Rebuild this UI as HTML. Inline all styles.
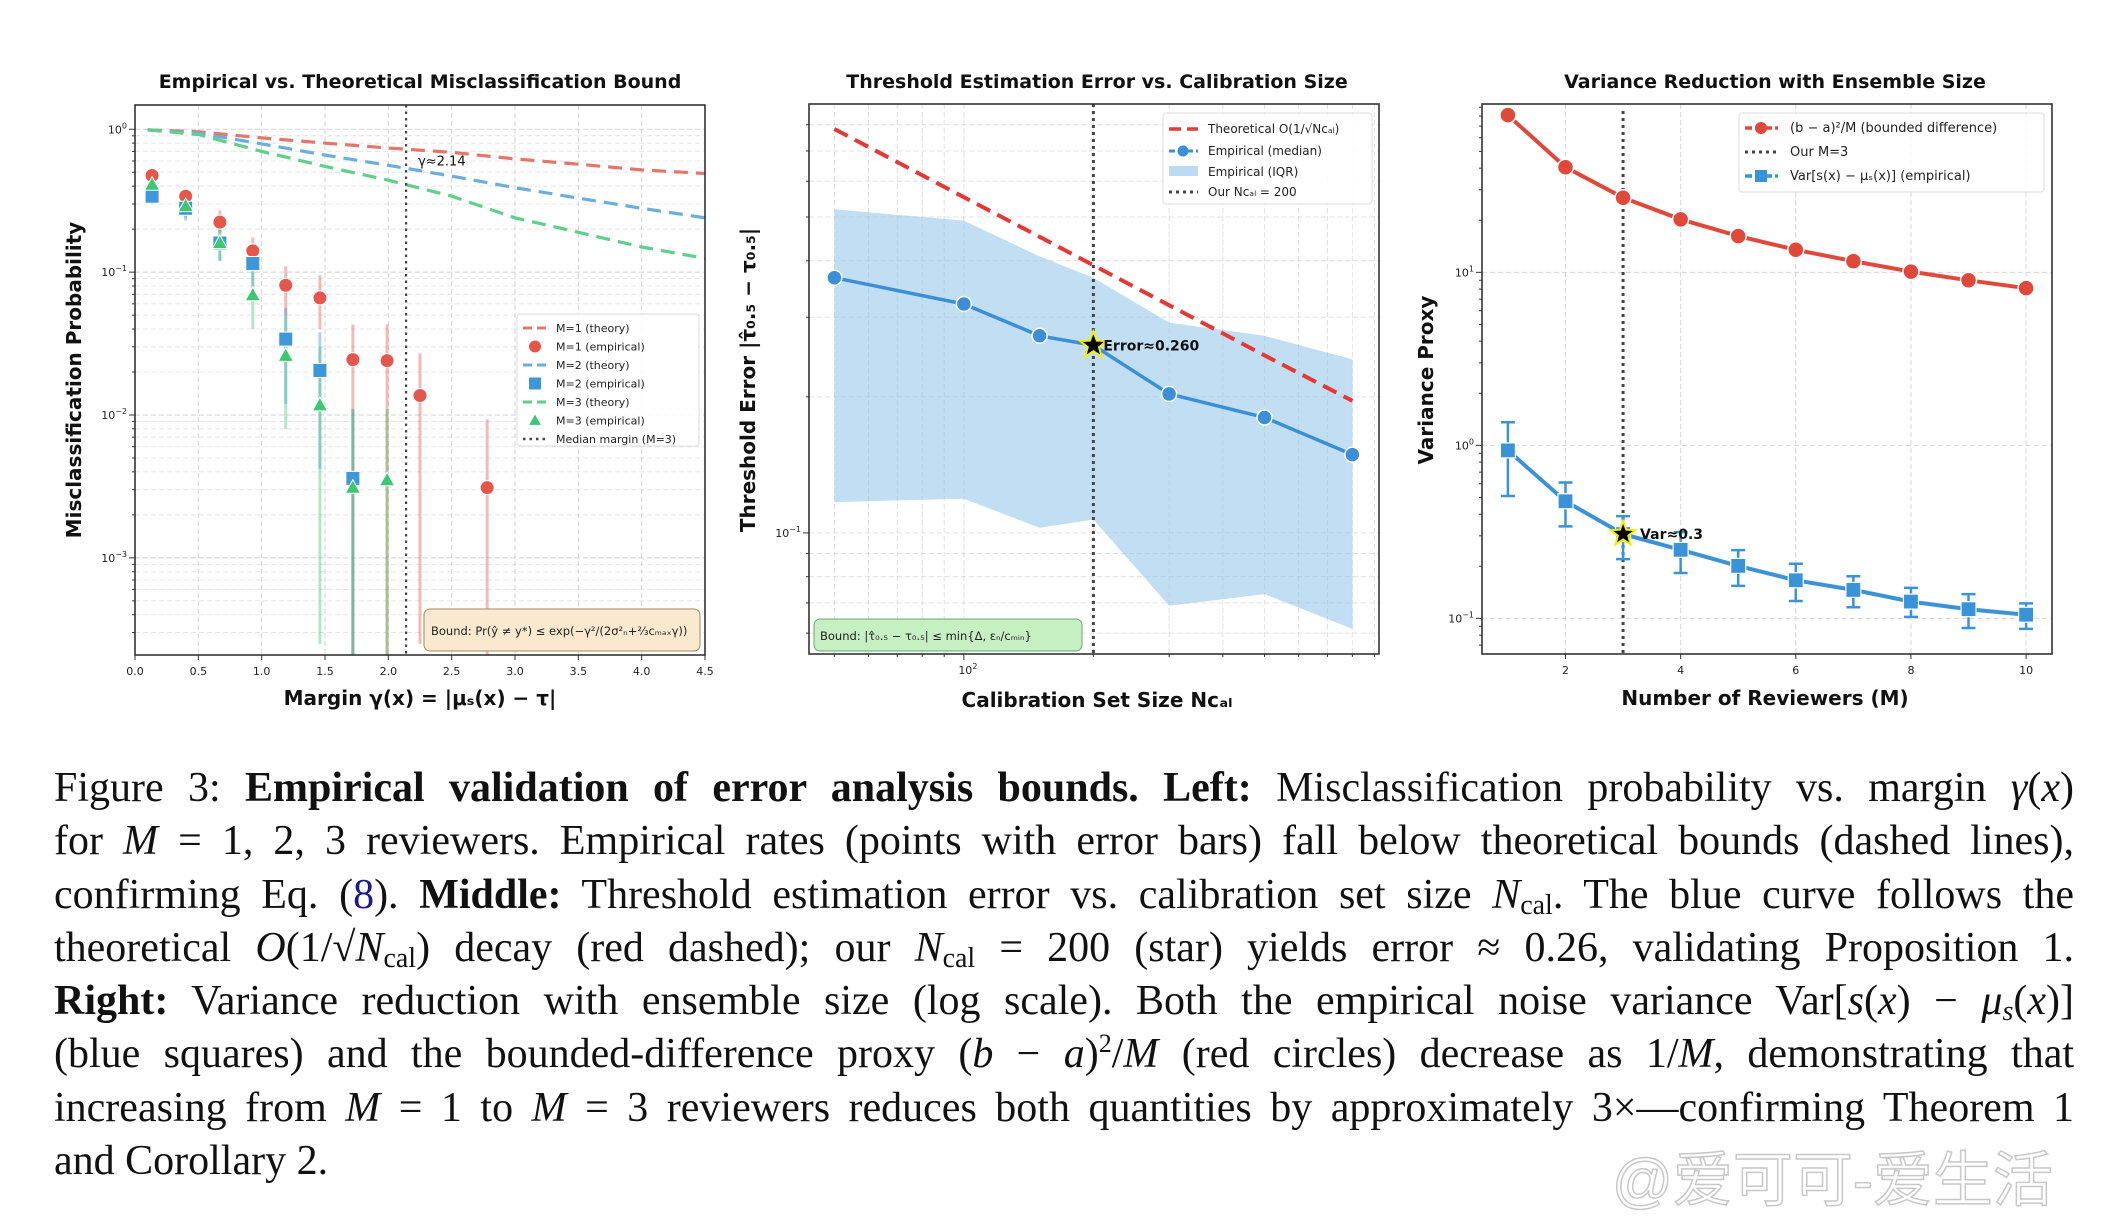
<!DOCTYPE html>
<html><head><meta charset="utf-8">
<style>
html,body{margin:0;padding:0;background:#fff;}
body{width:2114px;height:1220px;position:relative;overflow:hidden;font-family:"DejaVu Sans","Liberation Sans",sans-serif;}
#fig{position:absolute;left:0;top:0;}
#caption{position:absolute;left:54px;top:762px;width:2020px;font-family:"Liberation Serif",serif;font-size:42px;color:#111;}
#caption .ln{height:53.3px;line-height:53.3px;text-align:justify;text-align-last:justify;white-space:nowrap;}
#caption .ln.last{text-align-last:left;}
#caption i{font-style:italic;}
#caption sub{font-size:28px;vertical-align:-6px;line-height:0;}
#wm{position:absolute;left:1612px;top:1132px;font-family:"Liberation Sans","Noto Sans CJK SC",sans-serif;font-size:60px;color:#fff;-webkit-text-stroke:1.5px #c8c8c8;}
</style></head>
<body>
<svg id="fig" width="2114" height="760" xmlns="http://www.w3.org/2000/svg" font-family="DejaVu Sans, Liberation Sans, sans-serif"></svg>
<div id="caption">
<div class="ln">Figure 3: <b>Empirical validation of error analysis bounds. Left:</b> Misclassification probability vs. margin <i>γ</i>(<i>x</i>)</div>
<div class="ln">for <i>M</i> = 1, 2, 3 reviewers. Empirical rates (points with error bars) fall below theoretical bounds (dashed lines),</div>
<div class="ln">confirming Eq. (<span style="color:#1a1a8c">8</span>). <b>Middle:</b> Threshold estimation error vs. calibration set size <i>N</i><sub>cal</sub>. The blue curve follows the</div>
<div class="ln">theoretical <i>O</i>(1/√<i>N</i><sub>cal</sub>) decay (red dashed); our <i>N</i><sub>cal</sub> = 200 (star) yields error ≈ 0.26, validating Proposition 1.</div>
<div class="ln"><b>Right:</b> Variance reduction with ensemble size (log scale). Both the empirical noise variance Var[<i>s</i>(<i>x</i>) − <i>μ<sub>s</sub></i>(<i>x</i>)]</div>
<div class="ln">(blue squares) and the bounded-difference proxy (<i>b</i> − <i>a</i>)<sup style="font-size:26px;line-height:0">2</sup>/<i>M</i> (red circles) decrease as 1/<i>M</i>, demonstrating that</div>
<div class="ln">increasing from <i>M</i> = 1 to <i>M</i> = 3 reviewers reduces both quantities by approximately 3×—confirming Theorem 1</div>
<div class="ln last">and Corollary 2.</div>
</div>
<div id="wm">@爱可可-爱生活</div>
<script>
// ---------- LEFT PANEL DATA ----------
const leftTheoryX = [0.1,0.5,1.0,1.5,2.0,2.5,3.0,3.5,4.0,4.5];
const leftTheoryM1 = [0.99,0.96,0.87,0.80,0.74,0.69,0.62,0.57,0.52,0.49];
const leftTheoryM2 = [0.99,0.94,0.79,0.66,0.56,0.47,0.39,0.33,0.28,0.24];
const leftTheoryM3 = [0.99,0.92,0.70,0.55,0.44,0.34,0.24,0.19,0.15,0.125];
const leftEmpX = [0.135,0.40,0.67,0.93,1.19,1.46,1.72,1.99,2.25,2.78];
const leftEmpM1 = [0.475,0.34,0.224,0.141,0.081,0.066,0.0244,0.024,0.0137,0.0031];
const leftEmpM1Lo = [0.42,0.30,0.19,0.11,0.05,0.04,0.0002,0.0002,0.00025,0.0001];
const leftEmpM1Hi = [0.53,0.38,0.27,0.175,0.11,0.095,0.043,0.043,0.027,0.0093];
const leftEmpM2 = [0.34,0.28,0.16,0.115,0.034,0.0205,0.0036];
const leftEmpM2Lo = [0.30,0.23,0.12,0.08,0.012,0.0042,0.0001];
const leftEmpM2Hi = [0.38,0.33,0.20,0.15,0.056,0.038,0.011];
const leftEmpM3 = [0.41,0.29,0.16,0.069,0.026,0.0117,0.0031,0.0035];
const leftEmpM3Lo = [0.36,0.24,0.12,0.04,0.008,0.00025,0.0001,0.0001];
const leftEmpM3Hi = [0.46,0.34,0.21,0.10,0.05,0.03,0.011,0.011];
const leftMedian = 2.14;
const leftXTicks = [0,0.5,1,1.5,2,2.5,3,3.5,4,4.5];
const leftYTicks = [0,-1,-2,-3];
// ---------- MIDDLE PANEL DATA ----------
const midN = [50,100,150,200,300,500,800];
const midTheory = [0.783,0.553,0.452,0.391,0.319,0.247,0.196];
const midMedian = [0.367,0.321,0.273,0.260,0.203,0.180,0.149];
const midIqrHi = [0.52,0.491,0.409,0.367,0.292,0.273,0.242];
const midIqrLo = [0.117,0.119,0.1026,0.107,0.069,0.0732,0.0613];
const midOurN = 200;
// ---------- RIGHT PANEL DATA ----------
const rightM = [1,2,3,4,5,6,7,8,9,10];
const rightBound = [81,40.5,27,20.25,16.2,13.5,11.6,10.1,9,8.1];
const rightVar = [0.935,0.475,0.307,0.249,0.201,0.166,0.146,0.125,0.113,0.105];
const rightVarHi = [1.36,0.61,0.39,0.315,0.248,0.207,0.175,0.15,0.138,0.122];
const rightVarLo = [0.51,0.34,0.22,0.183,0.154,0.126,0.116,0.102,0.088,0.087];
const rightXTicks = [2,4,6,8,10];
const rightOurM = 3;

const NS="http://www.w3.org/2000/svg";
const svg=document.getElementById('fig');
function el(tag,attrs,parent,text){const e=document.createElementNS(NS,tag);for(const k in attrs)e.setAttribute(k,attrs[k]);if(text!==undefined)e.textContent=text;(parent||svg).appendChild(e);return e;}
function linS(d0,d1,r0,r1){return v=>r0+(v-d0)/(d1-d0)*(r1-r0);}
function logS(d0,d1,r0,r1){return v=>r0+(Math.log10(v)-d0)/(d1-d0)*(r1-r0);}
function pathD(xs,ys,fx,fy){return xs.map((x,i)=>(i?'L':'M')+fx(x).toFixed(1)+','+fy(ys[i]).toFixed(1)).join(' ');}
function sup(g,x,y,base,exp,anchor){const t=el('text',{x:x,y:y,'font-size':11,'text-anchor':anchor||'end',fill:'#222'},g);t.appendChild(document.createTextNode(base));el('tspan',{dy:-5,'font-size':8},t,exp);return t;}
function frame(g,L,T,R,B){el('rect',{x:L,y:T,width:R-L,height:B-T,fill:'none',stroke:'#333','stroke-width':1.6},g);}
function gridV(g,x,T,B,op){el('line',{x1:x,x2:x,y1:T,y2:B,stroke:'#ccc','stroke-width':1,'stroke-dasharray':'5,3',opacity:op||0.8},g);}
function gridH(g,y,L,R,op){el('line',{x1:L,x2:R,y1:y,y2:y,stroke:'#ccc','stroke-width':1,'stroke-dasharray':'5,3',opacity:op||0.8},g);}
function star(g,cx,cy,r){let p=[];for(let i=0;i<10;i++){const a=-Math.PI/2+i*Math.PI/5;const rr=i%2?r*0.42:r;p.push((cx+rr*Math.cos(a)).toFixed(1)+','+(cy+rr*Math.sin(a)).toFixed(1));}return el('polygon',{points:p.join(' '),fill:'#000',stroke:'#f5f000','stroke-width':2},g);}
function tri(g,cx,cy,r,fill){return el('polygon',{points:`${cx},${cy-r} ${cx-r*0.95},${cy+r*0.7} ${cx+r*0.95},${cy+r*0.7}`,fill:fill,stroke:'#fff','stroke-width':1},g);}

// ================= LEFT =================
(function(){
const L=135,R=705,T=105,B=655;
const g=el('g',{});


const fx=linS(0,4.5,L,R), fy=logS(0.17,-3.68,T,B);
for(let d=-4;d<=0;d++)for(let m=1;m<10;m++){const v=m*Math.pow(10,d);const lv=Math.log10(v);if(lv<-3.68||lv>0.17)continue;const y=fy(v);gridH(g,y,L,R,m===1?0.9:0.5);el('line',{x1:L-(m===1?6:3),x2:L,y1:y,y2:y,stroke:'#333'},g);}
leftXTicks.forEach(v=>{gridV(g,fx(v),T,B);el('line',{x1:fx(v),x2:fx(v),y1:B,y2:B+5,stroke:'#333'},g);const t=el('text',{x:fx(v),y:B+20,'font-size':11,'text-anchor':'middle',fill:'#222'},g,v.toFixed(1));});
leftYTicks.forEach(d=>{sup(g,L-8,fy(Math.pow(10,d))+4,'10',String(d).replace('-','−'));});
const cols={r:'#e5574b',b:'#3d97d9',gr:'#3fc670'};
[[leftTheoryM1,'#e3776c','theory-line-m1'],[leftTheoryM2,'#6aaee0','theory-line-m2'],[leftTheoryM3,'#5fcf8a','theory-line-m3']].forEach(s=>{const p=el('path',{d:pathD(leftTheoryX,s[0],fx,fy),fill:'none',stroke:s[1],'stroke-width':3.2,'stroke-dasharray':'14,8'},g);});
const clipB=v=>Math.max(v,Math.pow(10,-3.68));
function ebars(xs,lo,hi,c){lo.forEach((l,i)=>{const e=el('line',{x1:fx(xs[i]),x2:fx(xs[i]),y1:fy(clipB(l)),y2:fy(hi[i]),stroke:c,'stroke-width':3,opacity:0.4},g);});}
ebars(leftEmpX,leftEmpM1Lo,leftEmpM1Hi,cols.r);
ebars(leftEmpX,leftEmpM2Lo,leftEmpM2Hi,cols.b);
ebars(leftEmpX,leftEmpM3Lo,leftEmpM3Hi,cols.gr);
el('line',{x1:fx(leftMedian),x2:fx(leftMedian),y1:T,y2:B,stroke:'#444','stroke-width':2.2,'stroke-dasharray':'2.5,4'},g);
el('text',{x:fx(leftMedian)+12,y:fy(0.56),'font-size':13,fill:'#111'},g,'γ≈2.14');
leftEmpM1.forEach((v,i)=>{const c=el('circle',{cx:fx(leftEmpX[i]),cy:fy(v),r:7,fill:cols.r,stroke:'#fff','stroke-width':1},g);});
leftEmpM2.forEach((v,i)=>{const c=el('rect',{x:fx(leftEmpX[i])-7,y:fy(v)-7,width:14,height:14,fill:cols.b,stroke:'#fff','stroke-width':1},g);});
leftEmpM3.forEach((v,i)=>{const c=tri(g,fx(leftEmpX[i]),fy(v),8,cols.gr);});
frame(g,L,T,R,B);
const lg=el('g',{},g);
el('rect',{x:517,y:314,width:182,height:132,rx:3,fill:'#fff','fill-opacity':0.85,stroke:'#ddd'},lg);
const items=[['line','#e3776c','M=1 (theory)'],['circ',cols.r,'M=1 (empirical)'],['line','#6aaee0','M=2 (theory)'],['sq',cols.b,'M=2 (empirical)'],['line','#5fcf8a','M=3 (theory)'],['tri',cols.gr,'M=3 (empirical)'],['dot','#444','Median margin (M=3)']];
items.forEach((it,i)=>{const y=328+i*18.5;if(it[0]==='line')el('line',{x1:523,x2:548,y1:y,y2:y,stroke:it[1],'stroke-width':3,'stroke-dasharray':'9,5'},lg);else if(it[0]==='dot')el('line',{x1:523,x2:548,y1:y,y2:y,stroke:it[1],'stroke-width':2.4,'stroke-dasharray':'2.5,4'},lg);else if(it[0]==='circ')el('circle',{cx:535,cy:y,r:6,fill:it[1]},lg);else if(it[0]==='sq')el('rect',{x:529,y:y-6,width:12,height:12,fill:it[1]},lg);else tri(lg,535,y,7,it[1]);el('text',{x:556,y:y+4,'font-size':11,fill:'#222'},lg,it[2]);});
const bb=el('g',{},g);
el('rect',{x:424,y:609,width:276,height:42,rx:6,fill:'#fbe9cf',stroke:'#a08a60','stroke-width':1},bb);
el('text',{x:431,y:635,'font-size':11.5,fill:'#222'},bb,'Bound: Pr(ŷ ≠ y*) ≤ exp(−γ²/(2σ²ₙ+⅔c\u2098\u2090\u2093γ))');
el('text',{x:420,y:88,'font-size':19,'font-weight':'bold','text-anchor':'middle',fill:'#111'},g,'Empirical vs. Theoretical Misclassification Bound');
el('text',{x:420,y:705,'font-size':20,'font-weight':'bold','text-anchor':'middle',fill:'#111'},g,'Margin γ(x) = |μ\u209b(x) − τ|');
el('text',{x:0,y:0,'font-size':20,'font-weight':'bold','text-anchor':'middle',fill:'#111',transform:'translate(81,380) rotate(-90)'},g,'Misclassification Probability');
})();

// ================= MIDDLE =================
(function(){
const L=809,R=1379,T=104,B=654;
const g=el('g',{});


const fx=logS(1.64,2.965,L,R), fy=logS(-0.051,-1.268,T,B);
for(let m=5;m<=9;m++){const v=m/100;const y=fy(v);if(y<B){gridH(g,y,L,R,0.6);el('line',{x1:L-3,x2:L,y1:y,y2:y,stroke:'#333'},g);}}
for(let m=1;m<=8;m++){const v=m/10;const y=fy(v);if(y>T&&y<B){gridH(g,y,L,R,0.6);el('line',{x1:L-(m===1?6:3),x2:L,y1:y,y2:y,stroke:'#333'},g);}}
for(let v of [50,60,70,80,90,100,200,300,400,500,600,700,800,900]){const x=fx(v);if(x<L||x>R)continue;gridV(g,x,T,B,0.6);el('line',{x1:x,x2:x,y1:B,y2:B+(v===100?6:3),stroke:'#333'},g);}
sup(g,fx(100)+4,B+20,'10','2','middle');
sup(g,L-8,fy(0.1)+4,'10','−1');
const band=el('path',{d:pathD(midN,midIqrHi,fx,fy)+' '+midN.slice().reverse().map((n,i)=>'L'+fx(n).toFixed(1)+','+fy(midIqrLo[midN.length-1-i]).toFixed(1)).join(' ')+'Z',fill:'#8fc2ea','fill-opacity':0.55,stroke:'none'},g);

const th=el('path',{d:pathD(midN,midTheory,fx,fy),fill:'none',stroke:'#e53935','stroke-width':4,'stroke-dasharray':'15,8'},g);

el('line',{x1:fx(midOurN),x2:fx(midOurN),y1:T,y2:B,stroke:'#444','stroke-width':3,'stroke-dasharray':'3,4'},g);
const ml=el('path',{d:pathD(midN,midMedian,fx,fy),fill:'none',stroke:'#3a8fd6','stroke-width':3.5},g);

midMedian.forEach((v,i)=>{if(midN[i]===midOurN)return;const c=el('circle',{cx:fx(midN[i]),cy:fy(v),r:7.5,fill:'#3a8fd6',stroke:'#fff','stroke-width':1.5},g);});
const si=midN.indexOf(midOurN);
const st=star(g,fx(midOurN),fy(midMedian[si]),14);
el('text',{x:fx(midOurN)+10,y:fy(midMedian[si])+5,'font-size':14,'font-weight':'bold',fill:'#111'},g,'Error≈0.260');
frame(g,L,T,R,B);
const lg=el('g',{},g);
el('rect',{x:1163,y:113,width:209,height:91,rx:3,fill:'#fff','fill-opacity':0.85,stroke:'#ddd'},lg);
el('line',{x1:1169,x2:1198,y1:129,y2:129,stroke:'#e53935','stroke-width':3.5,'stroke-dasharray':'12,6'},lg);
el('text',{x:1208,y:133,'font-size':12,fill:'#222'},lg,'Theoretical O(1/√N\u0063\u2090\u2097)');
el('line',{x1:1169,x2:1198,y1:151,y2:151,stroke:'#3a8fd6','stroke-width':3,'stroke-dasharray':'6,3'},lg);
el('circle',{cx:1183,cy:151,r:5.5,fill:'#3a8fd6'},lg);
el('text',{x:1208,y:155,'font-size':12,fill:'#222'},lg,'Empirical (median)');
el('rect',{x:1169,y:166,width:29,height:10,fill:'#8fc2ea','fill-opacity':0.6},lg);
el('text',{x:1208,y:176,'font-size':12,fill:'#222'},lg,'Empirical (IQR)');
el('line',{x1:1169,x2:1198,y1:192,y2:192,stroke:'#444','stroke-width':3,'stroke-dasharray':'3,4'},lg);
el('text',{x:1208,y:196,'font-size':12,fill:'#222'},lg,'Our N\u0063\u2090\u2097 = 200');
const bb=el('g',{},g);
el('rect',{x:814,y:619,width:268,height:32,rx:6,fill:'#c6efc2',stroke:'#6aa86a','stroke-width':1},bb);
el('text',{x:820,y:640,'font-size':11.5,fill:'#222'},bb,'Bound: |τ̂\u2080.\u2085 − τ\u2080.\u2085| ≤ min{Δ, εₙ/c\u2098ᵢₙ}');
el('text',{x:1097,y:88,'font-size':19,'font-weight':'bold','text-anchor':'middle',fill:'#111'},g,'Threshold Estimation Error vs. Calibration Size');
el('text',{x:1097,y:707,'font-size':20,'font-weight':'bold','text-anchor':'middle',fill:'#111'},g,'Calibration Set Size N\u0063\u2090\u2097');
el('text',{x:0,y:0,'font-size':20,'font-weight':'bold','text-anchor':'middle',fill:'#111',transform:'translate(755,380) rotate(-90)'},g,'Threshold Error |τ̂₀.₅ − τ₀.₅|');
})();

// ================= RIGHT =================
(function(){
const L=1482,R=2052,T=104,B=654;
const g=el('g',{});


const fx=linS(0.55,10.45,L,R), fy=logS(1.973,-1.206,T,B);
[1,0,-1].forEach(d=>{gridH(g,fy(Math.pow(10,d)),L,R,0.8);sup(g,L-8,fy(Math.pow(10,d))+4,'10',String(d).replace('-','−'));});
for(let d=-2;d<=1;d++)for(let m=1;m<10;m++){const v=m*Math.pow(10,d);const lv=Math.log10(v);if(lv<-1.206||lv>1.973)continue;el('line',{x1:L-(m===1?6:3),x2:L,y1:fy(v),y2:fy(v),stroke:'#333'},g);}
rightXTicks.forEach(v=>{gridV(g,fx(v),T,B);el('line',{x1:fx(v),x2:fx(v),y1:B,y2:B+5,stroke:'#333'},g);el('text',{x:fx(v),y:B+20,'font-size':11,'text-anchor':'middle',fill:'#222'},g,String(v));});
el('line',{x1:fx(rightOurM),x2:fx(rightOurM),y1:T+7,y2:B,stroke:'#444','stroke-width':3,'stroke-dasharray':'3,4'},g);
const rl=el('path',{d:pathD(rightM,rightBound,fx,fy),fill:'none',stroke:'#e0483a','stroke-width':4},g);

rightBound.forEach((v,i)=>{const c=el('circle',{cx:fx(rightM[i]),cy:fy(v),r:8,fill:'#e0483a',stroke:'#fff','stroke-width':1.5},g);});
const bl=el('path',{d:pathD(rightM,rightVar,fx,fy),fill:'none',stroke:'#3a92d8','stroke-width':4},g);

rightVar.forEach((v,i)=>{const x=fx(rightM[i]);const e=el('path',{d:`M${x},${fy(rightVarLo[i])}L${x},${fy(rightVarHi[i])}M${x-7},${fy(rightVarLo[i])}L${x+7},${fy(rightVarLo[i])}M${x-7},${fy(rightVarHi[i])}L${x+7},${fy(rightVarHi[i])}`,stroke:'#3a92d8','stroke-width':2.5,fill:'none'},g);
const s=el('rect',{x:x-7.5,y:fy(v)-7.5,width:15,height:15,fill:'#3a92d8',stroke:'#fff','stroke-width':1.2},g);});
const si=rightM.indexOf(rightOurM);
const st=star(g,fx(rightOurM),fy(rightVar[si]),13);
el('text',{x:fx(rightOurM)+17,y:fy(rightVar[si])+5,'font-size':14,'font-weight':'bold',fill:'#111'},g,'Var≈0.3');
frame(g,L,T,R,B);
const lg=el('g',{},g);
el('rect',{x:1739,y:113,width:305,height:79,rx:3,fill:'#fff','fill-opacity':0.85,stroke:'#ddd'},lg);
el('line',{x1:1745,x2:1778,y1:128,y2:128,stroke:'#e0483a','stroke-width':3.5,'stroke-dasharray':'7,3'},lg);
el('circle',{cx:1761,cy:128,r:6,fill:'#e0483a'},lg);
el('text',{x:1790,y:132,'font-size':13,fill:'#222'},lg,'(b − a)²/M (bounded difference)');
el('line',{x1:1745,x2:1778,y1:152,y2:152,stroke:'#444','stroke-width':3,'stroke-dasharray':'3,4'},lg);
el('text',{x:1790,y:156,'font-size':13,fill:'#222'},lg,'Our M=3');
el('line',{x1:1745,x2:1778,y1:176,y2:176,stroke:'#3a92d8','stroke-width':3.5,'stroke-dasharray':'7,3'},lg);
el('rect',{x:1755,y:170,width:12,height:12,fill:'#3a92d8'},lg);
el('text',{x:1790,y:180,'font-size':13,fill:'#222'},lg,'Var[s(x) − μ\u209b(x)] (empirical)');
el('text',{x:1775,y:88,'font-size':19,'font-weight':'bold','text-anchor':'middle',fill:'#111'},g,'Variance Reduction with Ensemble Size');
el('text',{x:1765,y:705,'font-size':20,'font-weight':'bold','text-anchor':'middle',fill:'#111'},g,'Number of Reviewers (M)');
el('text',{x:0,y:0,'font-size':20,'font-weight':'bold','text-anchor':'middle',fill:'#111',transform:'translate(1433,380) rotate(-90)'},g,'Variance Proxy');
})();
</script>
</body></html>
